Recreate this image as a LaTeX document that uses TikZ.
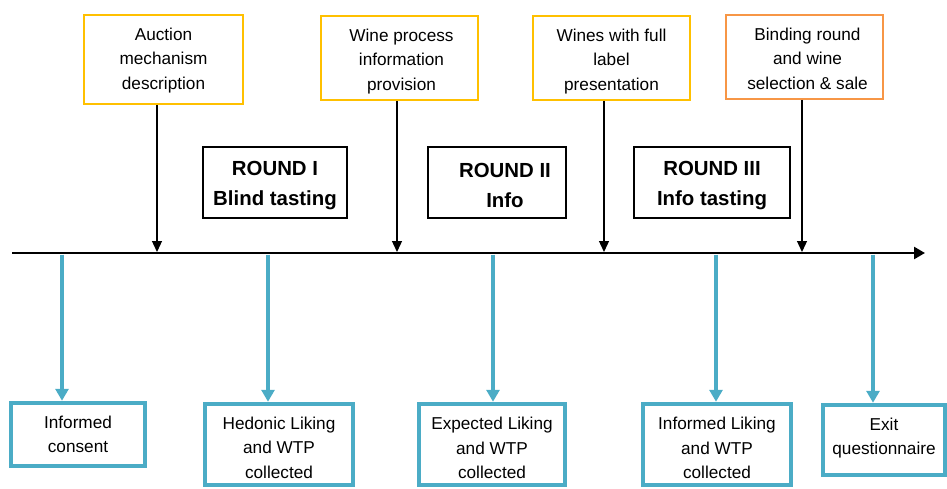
\documentclass[tikz,border=0pt]{standalone}
\usepackage{fontspec}
\setmainfont{Liberation Sans}
\usetikzlibrary{arrows.meta}
\definecolor{boxyellow}{HTML}{FFC000}
\definecolor{boxorange}{HTML}{F79646}
\definecolor{tealblue}{HTML}{4BACC6}
\begin{document}
\begin{tikzpicture}[x=1pt,y=-1pt,
  topbox/.style={draw=boxyellow, line width=1.6pt, inner sep=0pt},
  roundbox/.style={draw=black, line width=1.4pt, inner sep=0pt},
  botbox/.style={draw=tealblue, line width=4.5pt, inner sep=0pt},
  plaintext/.style={inner sep=0pt, align=center, text=black,
    font=\fontsize{17.2}{24.5}\selectfont},
  boldtext/.style={inner sep=0pt, align=center, text=black,
    font=\bfseries\fontsize{20.4}{30}\selectfont},
  thinarrow/.style={draw=black, line width=1.3pt, -{Triangle[length=11pt,width=10pt]}},
  bluearrow/.style={draw=tealblue, line width=4.5pt, -{Triangle[length=12pt,width=13pt]}},
  timeline/.style={draw=black, line width=2.4pt, -{Triangle[length=11pt,width=12pt]}}
]
\useasboundingbox (0,0) rectangle (947,489);

% top boxes
\node[topbox, minimum width=159pt, minimum height=89pt,
  label={[plaintext, yshift=-1pt]center:{Auction\\mechanism\\description}}] (a) at (163.5,59.5) {};
\node[topbox, minimum width=157pt, minimum height=84pt,
  label={[plaintext, yshift=-3.5pt, xshift=2pt]center:{Wine process\\information\\provision}}] (b) at (399.5,58) {};
\node[topbox, minimum width=157pt, minimum height=84pt,
  label={[plaintext, yshift=-3.5pt]center:{Wines with full\\label\\presentation}}] (c) at (611.5,58) {};
\node[topbox, draw=boxorange, minimum width=157pt, minimum height=84pt,
  label={[plaintext, yshift=-1.5pt, xshift=3pt]center:{Binding round\\and wine\\selection \& sale}}] (d) at (804.5,57) {};

% rounds
\node[roundbox, minimum width=144pt, minimum height=71pt,
  label={[boldtext, yshift=-3pt]center:{ROUND I\\Blind tasting}}] (r1) at (275,182.5) {};
\node[roundbox, minimum width=138pt, minimum height=71pt,
  label={[boldtext, yshift=-3pt, xshift=8pt]center:{ROUND II\\Info}}] (r2) at (497,182.5) {};
\node[roundbox, minimum width=156pt, minimum height=71pt,
  label={[boldtext, yshift=-3pt]center:{ROUND III\\Info tasting}}] (r3) at (712,182.5) {};

% bottom boxes
\node[botbox, minimum width=134pt, minimum height=63pt,
  label={[plaintext]center:{Informed\\consent}}] (e1) at (78,434.5) {};
\node[botbox, minimum width=148pt, minimum height=81pt,
  label={[plaintext, yshift=-3pt]center:{Hedonic Liking\\and WTP\\collected}}] (e2) at (279,444.5) {};
\node[botbox, minimum width=146pt, minimum height=81pt,
  label={[plaintext, yshift=-3.5pt]center:{Expected Liking\\and WTP\\collected}}] (e3) at (492,444.5) {};
\node[botbox, minimum width=148pt, minimum height=81pt,
  label={[plaintext, yshift=-3.5pt]center:{Informed Liking\\and WTP\\collected}}] (e4) at (717,444.5) {};
\node[botbox, minimum width=122pt, minimum height=70pt,
  label={[plaintext, yshift=2pt]center:{Exit\\questionnaire}}] (e5) at (884,440) {};

% timeline
\coordinate (ts) at (12,253);
\coordinate (te) at (925,253);
\draw[timeline] (ts) -- (te);

% thin arrows onto the timeline
\coordinate (t1) at (157,252);
\coordinate (t2) at (397,252);
\coordinate (t3) at (604,252);
\coordinate (t4) at (802,252);
\draw[thinarrow] (a.south -| t1) -- (t1);
\draw[thinarrow] (b.south -| t2) -- (t2);
\draw[thinarrow] (c.south -| t3) -- (t3);
\draw[thinarrow] (d.south -| t4) -- (t4);

% blue arrows down to boxes
\coordinate (s1) at (62,254.5);
\coordinate (s2) at (268,254.5);
\coordinate (s3) at (493,254.5);
\coordinate (s4) at (716,254.5);
\coordinate (s5) at (873,254.5);
\draw[bluearrow] (s1) -- (e1.north -| s1);
\draw[bluearrow] (s2) -- (e2.north -| s2);
\draw[bluearrow] (s3) -- (e3.north -| s3);
\draw[bluearrow] (s4) -- (e4.north -| s4);
\draw[bluearrow] (s5) -- (e5.north -| s5);
\end{tikzpicture}
\end{document}
